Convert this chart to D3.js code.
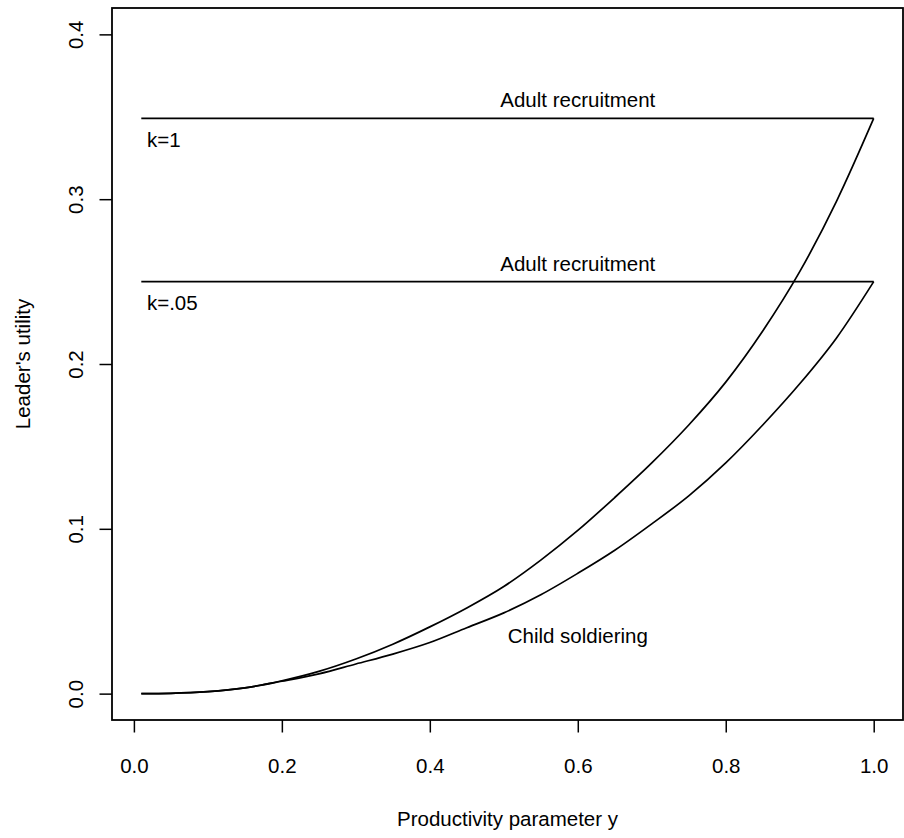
<!DOCTYPE html>
<html>
<head>
<meta charset="utf-8">
<script src="https://cdn.jsdelivr.net/npm/d3@7"></script>
<style>
  body { margin: 0; background: #fff; }
  svg text { font-family: "Liberation Sans", Arial, sans-serif; font-size: 20.5px; fill: #000; }
</style>
</head>
<body>
<div class="graph"></div>
<script>
// productivity parameter grid
const xs = [0.01, 0.05, 0.10, 0.15, 0.20, 0.25, 0.30, 0.35, 0.40, 0.45, 0.50,
            0.55, 0.60, 0.65, 0.70, 0.75, 0.80, 0.85, 0.90, 0.95, 1.00]
// child soldiering utility, k=1
const childK1 = [0, 0.0002, 0.0012, 0.0035, 0.0078, 0.0135, 0.021, 0.030, 0.0405, 0.052, 0.065,
                 0.081, 0.099, 0.119, 0.140, 0.163, 0.189, 0.220, 0.256, 0.299, 0.349]
// child soldiering utility, k=.05
const childK05 = [0, 0.0002, 0.0012, 0.0035, 0.0075, 0.012, 0.018, 0.024, 0.031, 0.040, 0.049,
                  0.060, 0.073, 0.087, 0.103, 0.120, 0.140, 0.163, 0.188, 0.216, 0.250]
// adult recruitment levels
const adultLevels = [0.349, 0.25]
const kLabels = ["k=1", "k=.05"]
const xTicks = [0, 0.2, 0.4, 0.6, 0.8, 1.0]
const yTicks = [0, 0.1, 0.2, 0.3, 0.4]

const W = 904, H = 838
const box = {left: 112, right: 903, top: 8, bottom: 720}

const svg = d3.select(".graph").append("svg").attr("width", W).attr("height", H)

// R style 4% padding around data range
const xScale = d3.scaleLinear().domain([0.01 - 0.0396, 1.0 + 0.0396]).range([box.left, box.right])
const yScale = d3.scaleLinear().domain([-0.016, 0.416]).range([box.bottom, box.top])

const xAxis = svg.append("g")
  .attr("transform", "translate(0," + box.bottom + ")")
  .call(d3.axisBottom(xScale).tickValues(xTicks).tickSize(12.5).tickFormat(d3.format(".1f")))
xAxis.select(".domain").remove()
xAxis.selectAll("line").attr("stroke", "#000").attr("stroke-width", 1.5)
xAxis.selectAll("text").attr("y", 52.5).attr("dy", 0).attr("font-size", null)
  .style("font-size", "20.5px")

const yAxis = svg.append("g")
  .attr("transform", "translate(" + box.left + ",0)")
  .call(d3.axisLeft(yScale).tickValues(yTicks).tickSize(12.5).tickFormat(d3.format(".1f")))
yAxis.select(".domain").remove()
yAxis.selectAll("line").attr("stroke", "#000").attr("stroke-width", 1.5)
yAxis.selectAll("text")
  .attr("x", 0).attr("dy", 0)
  .attr("text-anchor", "middle")
  .attr("transform", "translate(-29,0) rotate(-90)")
  .style("font-size", "20.5px")

svg.append("rect")
  .attr("x", box.left).attr("y", box.top)
  .attr("width", box.right - box.left).attr("height", box.bottom - box.top)
  .attr("fill", "none").attr("stroke", "#000").attr("stroke-width", 1.8)

const line = d3.line().x(d => xScale(d[0])).y(d => yScale(d[1]))
const curve = d3.line().x(d => xScale(d[0])).y(d => yScale(d[1])).curve(d3.curveMonotoneX)

;[childK1, childK05].forEach(series => {
  svg.append("path")
    .datum(xs.map((x, i) => [x, series[i]]))
    .attr("d", curve)
    .attr("fill", "none").attr("stroke", "#000").attr("stroke-width", 1.7)
})

adultLevels.forEach((lvl, i) => {
  svg.append("path")
    .datum([[xs[0], lvl], [xs[xs.length - 1], lvl]])
    .attr("d", line)
    .attr("fill", "none").attr("stroke", "#000").attr("stroke-width", 1.7)
  svg.append("text")
    .attr("x", xScale(0.6)).attr("y", yScale(lvl + 0.011)).attr("dy", "0.35em")
    .attr("text-anchor", "middle")
    .text("Adult recruitment")
  svg.append("text")
    .attr("x", xScale(0.0176)).attr("y", yScale(lvl - 0.013)).attr("dy", "0.35em")
    .text(kLabels[i])
})

svg.append("text")
  .attr("x", xScale(0.6)).attr("y", yScale(0.035)).attr("dy", "0.35em")
  .attr("text-anchor", "middle")
  .text("Child soldiering")

svg.append("text")
  .attr("x", (box.left + box.right) / 2).attr("y", 826)
  .attr("text-anchor", "middle")
  .text("Productivity parameter y")

svg.append("text")
  .attr("transform", "translate(30," + (box.top + box.bottom) / 2 + ") rotate(-90)")
  .attr("text-anchor", "middle")
  .text("Leader's utility")
</script>
</body>
</html>
